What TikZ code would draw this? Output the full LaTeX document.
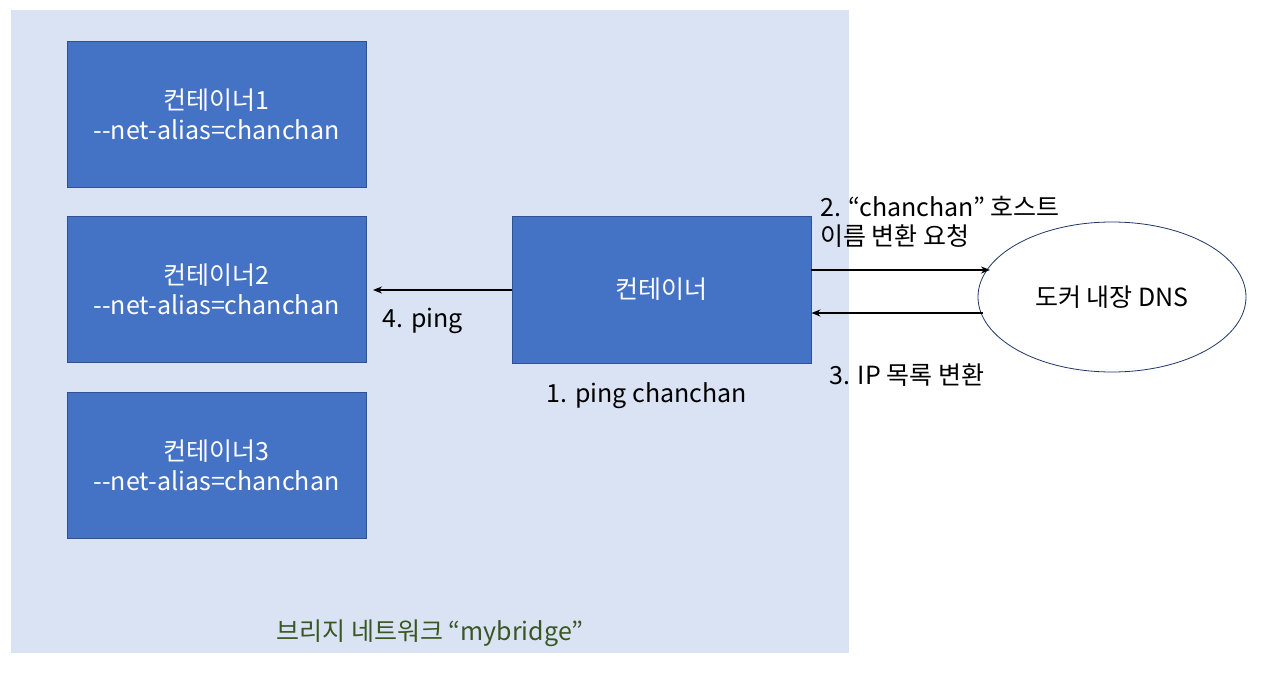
\documentclass[tikz,border=0pt]{standalone}
\usepackage{fontspec}
\setmainfont{Noto Sans CJK KR}
\usetikzlibrary{shapes.geometric,arrows.meta}
\definecolor{bgblue}{HTML}{DAE3F3}
\definecolor{boxblue}{HTML}{4472C4}
\definecolor{boxedge}{HTML}{2F528F}
\definecolor{elledge}{HTML}{203864}
\definecolor{greentxt}{HTML}{385723}
\tikzset{
  ctr/.style={draw=boxedge, line width=0.9pt, fill=boxblue, text=white, align=center,
    font=\fontsize{25}{30}\selectfont, inner sep=0pt},
  lbl/.style={font=\fontsize{25}{29}\selectfont, text=black, inner sep=0pt},
  arr/.style={-{Stealth[length=9pt,width=7pt]}, line width=1.5pt},
}
\begin{document}
\begin{tikzpicture}[x=1pt,y=-1pt]
\useasboundingbox (0,0) rectangle (1270,680);
\fill[bgblue] (11,10) rectangle (849,653);
\node[ctr, minimum width=299pt, minimum height=146pt] (c1) at (216.5,114) {컨테이너1\\{-}{-}net-alias=chanchan};
\node[ctr, minimum width=299pt, minimum height=146pt] (c2) at (216.5,289) {컨테이너2\\{-}{-}net-alias=chanchan};
\node[ctr, minimum width=299pt, minimum height=146pt] (c3) at (216.5,465) {컨테이너3\\{-}{-}net-alias=chanchan};
\node[ctr, minimum width=299pt, minimum height=147pt] (c) at (661.5,289.5) {컨테이너};
\node[ellipse, draw=elledge, line width=0.8pt, fill=white, minimum width=268pt, minimum height=150pt, inner sep=0pt, font=\fontsize{25}{29}\selectfont] (dns) at (1112,297) {도커 내장 DNS};
\coordinate (p4) at (373,290);
\draw[arr] (c.west |- p4) -- (p4);
\coordinate (q2) at (990,270);
\draw[arr] (c.east |- q2) -- (q2);
\coordinate (q3a) at (983,313);
\draw[arr] (q3a) -- (c.east |- q3a);
\node[lbl] (l4) at (423,321) {4. ping};
\node[lbl] (l1) at (647,396) {1. ping chanchan};
\node[lbl, anchor=west, align=left] (l2) at (820,222) {2. “chanchan” 호스트\\이름 변환 요청};
\node[lbl] (l3) at (907,375) {3. IP 목록 변환};
\node[lbl, text=greentxt] (lb) at (430,633) {브리지 네트워크 “mybridge”};
\end{tikzpicture}
\end{document}
